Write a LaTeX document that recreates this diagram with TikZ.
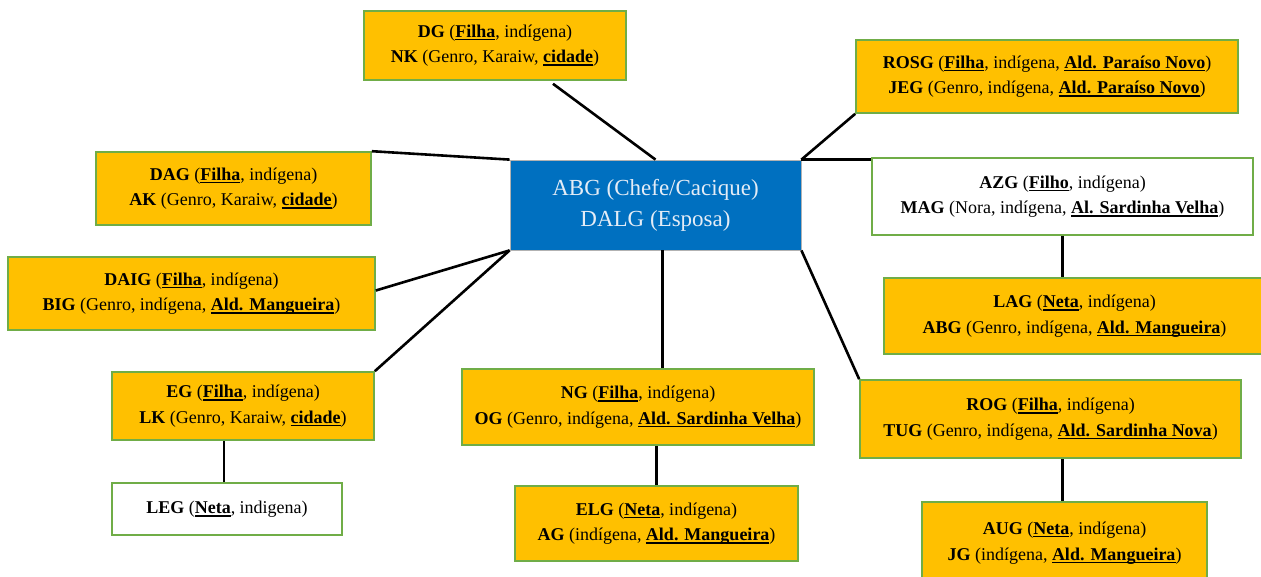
\documentclass[tikz,border=0pt]{standalone}
\usepackage{fontspec}
\setmainfont{Liberation Serif}
\usetikzlibrary{calc}
\newcommand{\uln}[1]{\leavevmode\setbox0\hbox{\textbf{#1}}\rlap{\raisebox{-3.2pt}{\rule{\wd0}{1.6pt}}}\box0}
\definecolor{boxfill}{HTML}{FFC000}
\definecolor{boxline}{HTML}{70AD47}
\definecolor{centfill}{HTML}{0070C0}
\definecolor{centtext}{HTML}{E4ECF6}
\tikzset{
  fam/.style={draw=boxline, line width=1.6pt, fill=boxfill, align=center, inner sep=0pt,
    font=\fontsize{18}{25.5}\selectfont, text=black},
  famw/.style={fam, fill=white},
  chief/.style={draw=gray!60, line width=0.8pt, fill=centfill, align=center, inner sep=0pt,
    font=\fontsize{23}{31}\selectfont, text=centtext},
  link/.style={draw=black, line width=2.6pt}
}
\begin{document}
\begin{tikzpicture}[x=1pt,y=-1pt]
\useasboundingbox (0,0) rectangle (1261,576);
\clip (0,0) rectangle (1261,576);
\fill[white] (0,0) rectangle (1261,576);
% boxes
\node[chief, minimum width=291pt, minimum height=90pt] (center) at (655.5,205) {ABG (Chefe/Cacique)\\DALG (Esposa)};
\node[fam, minimum width=262pt, minimum height=69pt] (dg) at (495,45.5) {\textbf{DG} (\uln{Filha}, indígena)\\\textbf{NK} (Genro, Karaiw, \uln{cidade})};
\node[fam, minimum width=382pt, minimum height=73pt] (rosg) at (1047,76.5) {\textbf{ROSG} (\uln{Filha}, indígena, \uln{Ald. Paraíso Novo})\\\textbf{JEG} (Genro, indígena, \uln{Ald. Paraíso Novo})};
\node[fam, minimum width=275pt, minimum height=73pt] (dag) at (233.5,188.5) {\textbf{DAG} (\uln{Filha}, indígena)\\\textbf{AK} (Genro, Karaiw, \uln{cidade})};
\node[famw, minimum width=381pt, minimum height=77pt] (azg) at (1062.5,196.5) {\textbf{AZG} (\uln{Filho}, indígena)\\\textbf{MAG} (Nora, indígena, \uln{Al. Sardinha Velha})};
\node[fam, minimum width=367pt, minimum height=73pt] (daig) at (191.5,293.5) {\textbf{DAIG} (\uln{Filha}, indígena)\\\textbf{BIG} (Genro, indígena, \uln{Ald. Mangueira})};
\node[fam, minimum width=381pt, minimum height=76pt] (lag) at (1074.5,316) {\textbf{LAG} (\uln{Neta}, indígena)\\\textbf{ABG} (Genro, indígena, \uln{Ald. Mangueira})};
\node[fam, minimum width=262pt, minimum height=68pt] (eg) at (243,406) {\textbf{EG} (\uln{Filha}, indígena)\\\textbf{LK} (Genro, Karaiw, \uln{cidade})};
\node[fam, minimum width=352pt, minimum height=76pt] (ng) at (638,407) {\textbf{NG} (\uln{Filha}, indígena)\\\textbf{OG} (Genro, indígena, \uln{Ald. Sardinha Velha})};
\node[fam, minimum width=381pt, minimum height=78pt] (rog) at (1050.5,419) {\textbf{ROG} (\uln{Filha}, indígena)\\\textbf{TUG} (Genro, indígena, \uln{Ald. Sardinha Nova})};
\node[famw, minimum width=230pt, minimum height=52pt] (leg) at (227,509) {\textbf{LEG} (\uln{Neta}, indigena)};
\node[fam, minimum width=283pt, minimum height=75pt] (elg) at (656.5,523.5) {\textbf{ELG} (\uln{Neta}, indígena)\\\textbf{AG} (indígena, \uln{Ald. Mangueira})};
\node[fam, minimum width=285pt, minimum height=80pt] (aug) at (1064.5,542) {\raisebox{5pt}{\begin{tabular}{@{}c@{}}\textbf{AUG} (\uln{Neta}, indígena)\\[0.5pt]\textbf{JG} (indígena, \uln{Ald. Mangueira})\end{tabular}}};
% connector end points
\coordinate (dgout) at ($(dg.south)+(58,3)$);
\coordinate (cs) at ($(center.south)+(7,0)$);
\coordinate (ngtop) at (cs |- ng.north);
\coordinate (legtop) at ($(leg.north)+(-3,0)$);
\coordinate (egbot) at (legtop |- eg.south);
\coordinate (augtop) at ($(aug.north)+(-2,0)$);
\coordinate (rogbot) at (augtop |- rog.south);
\coordinate (daigout) at ($(daig.east)+(0,-3)$);
% connectors
\draw[link] (dgout) -- (center.north);
\draw[link] (rosg.south west) -- (center.north east);
\draw[link] (center.north east) -- (center.north east -| azg.west);
\draw[link] (dag.north east) -- (center.north west);
\draw[link] (daigout) -- (center.south west);
\draw[link] (eg.north east) -- (center.south west);
\draw[link] (cs) -- (ngtop);
\draw[link] (center.south east) -- (rog.north west);
\draw[link] (azg.south) -- (azg.south |- lag.north);
\draw[link] (legtop) -- (egbot);
\draw[link] (elg.north) -- (elg.north |- ng.south);
\draw[link] (augtop) -- (rogbot);
\end{tikzpicture}
\end{document}
